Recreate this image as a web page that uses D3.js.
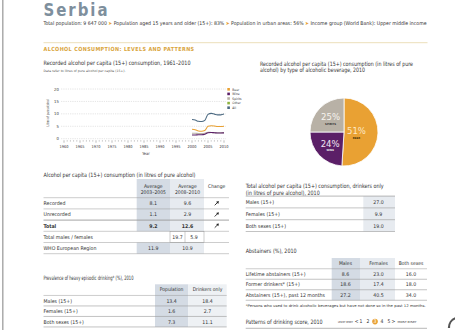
<!DOCTYPE html>
<html><head><meta charset="utf-8">
<script src="https://cdn.jsdelivr.net/npm/d3@7"></script>
<style>
html,body{margin:0;padding:0;background:#fff;}
svg{display:block;}
text{font-family:'Liberation Sans Narrow','DejaVu Sans Condensed','Roboto',sans-serif;}
</style></head><body>
<svg id="c" width="455" height="330"></svg>
<script>
// ---------- data ----------
const years   = [2000,2001,2002,2003,2004,2005,2006,2007,2008,2009,2010];
const beer    = [3.8,3.6,3.1,3.0,3.3,5.0,5.2,5.1,4.9,4.9,5.0];
const wine    = [1.5,1.5,1.6,1.6,1.8,2.4,2.5,2.4,2.3,2.3,2.35];
const spirits = [2.2,2.2,2.1,2.1,2.2,2.6,2.5,2.4,2.4,2.4,2.45];
const allBev  = [7.7,7.5,7.0,6.9,7.4,9.8,10.2,9.9,9.6,9.6,9.9];
const legendLabels = ["Beer","Wine","Spirits","Other","All"];
const yTicks = [0,5,10,15,20];
const xTickLabels = [1960,1965,1970,1975,1980,1985,1990,1995,2000,2005,2010];

const pieLabels = ["Beer","Wine","Spirits"];
const pieValues = [51,24,25];

const consRows  = ["Recorded","Unrecorded","Total","Total males / females","WHO European Region"];
const cons0305  = [8.1,1.1,9.2,null,11.9];
const cons0810  = [9.6,2.9,12.6,null,10.9];
const consMF    = [19.7,5.9];
const consUp    = [true,true,true,false,false];

const drRows = ["Males (15+)","Females (15+)","Both sexes (15+)"];
const drVals = [27.0,9.9,19.0];

const abRows    = ["Lifetime abstainers (15+)","Former drinkers* (15+)","Abstainers (15+), past 12 months"];
const abMales   = [8.6,18.6,27.2];
const abFemales = [23.0,17.4,40.5];
const abBoth    = [16.0,18.0,34.0];

const hedRows = ["Males (15+)","Females (15+)","Both sexes (15+)"];
const hedPop  = [13.4,1.6,7.3];
const hedDrk  = [18.4,2.7,11.1];

const scoreLevels = [1,2,3,4,5];
const scoreValue = 3;

// ---------- styles ----------
const C = {text:"#333", beer:"#e9a133", wine:"#5b1f67", spirits:"#b8b1a6", other:"#8db33f", all:"#4c6a82",
  shadeD:"#d4dbe4", shadeL:"#e7ebf0", rule:"#9a9a9a", gold:"#d9a43a"};
const svg = d3.select("#c");
const fmt = d3.format(".1f");
function txt(x,y,s,o={}){
  const t = svg.append("text").attr("x",x).attr("y",y).text(s)
    .attr("font-size",o.size||5.5).attr("fill",o.fill||C.text);
  if(o.anchor) t.attr("text-anchor",o.anchor);
  if(o.weight) t.attr("font-weight",o.weight);
  if(o.len) t.attr("textLength",o.len).attr("lengthAdjust","spacingAndGlyphs");
  if(o.ls) t.attr("letter-spacing",o.ls);
  return t;
}
function hline(x1,x2,y,o={}){
  svg.append("line").attr("x1",x1).attr("x2",x2).attr("y1",y).attr("y2",y)
    .attr("stroke",o.stroke||C.rule).attr("stroke-width",o.w||0.6);
}

// left page edge
svg.append("line").attr("x1",2.8).attr("x2",2.8).attr("y1",0).attr("y2",330).attr("stroke","#a5a5a5").attr("stroke-width",1.4);

// ---------- header ----------
txt(43.5,15.5,"Serbia",{size:17,fill:"#7e8f9d",weight:"bold",len:66,ls:2});
const sub = svg.append("text").attr("x",43.5).attr("y",24.6).attr("font-size",5.2).attr("fill",C.text)
  .attr("textLength",383).attr("lengthAdjust","spacingAndGlyphs");
const subParts = ["Total population: 9 647 000 ","Population aged 15 years and older (15+): 83% ","Population in urban areas: 56% ","Income group (World Bank): Upper middle income"];
subParts.forEach((p,i)=>{
  if(i>0) sub.append("tspan").attr("fill",C.beer).text("➤ ");
  sub.append("tspan").text(p);
});
hline(43.5,427.5,42.7,{stroke:"#eadcb2",w:0.9});
txt(43.5,51.3,"ALCOHOL CONSUMPTION: LEVELS AND PATTERNS",{size:5.6,fill:C.gold,weight:"bold",len:151,ls:0.4});

// ---------- line chart ----------
txt(43.5,65.3,"Recorded alcohol per capita (15+) consumption, 1961–2010",{size:6,len:147});
txt(43.5,71.8,"Data refer to litres of pure alcohol per capita (15+).",{size:3.2,fill:"#555",len:82});

const x = d3.scaleLinear().domain([1960,2010]).range([64,224]);
const y = d3.scaleLinear().domain([0,20]).range([138.7,89]);
yTicks.forEach(v=>{
  svg.append("line").attr("x1",61).attr("x2",226).attr("y1",y(v)).attr("y2",y(v))
    .attr("stroke","#b5b5b5").attr("stroke-width",0.5).attr("stroke-dasharray","0.7,1.1");
  txt(58.8,y(v)+1.5,v,{size:4.2,anchor:"end"});
});
d3.range(1960,2011).forEach(yr=>{
  const major = yr%5===0;
  svg.append("line").attr("x1",x(yr)).attr("x2",x(yr)).attr("y1",y(0)+1.6).attr("y2",y(0)+(major?4:2.8))
    .attr("stroke","#666").attr("stroke-width",0.45);
});
xTickLabels.forEach(yr=>txt(x(yr),147.8,yr,{size:3.9,anchor:"middle"}));
txt(146,155.3,"Year",{size:4,anchor:"middle"});
txt(0,0,"Litres of pure alcohol",{size:3.6,anchor:"middle",len:27}).attr("transform","translate(48.6,113) rotate(-90)");

const line = d3.line().x((d,i)=>x(years[i])).y(d=>y(d)).curve(d3.curveMonotoneX);
[[spirits,C.spirits],[wine,C.wine],[beer,C.beer],[allBev,C.all]].forEach(([s,c])=>{
  svg.append("path").attr("d",line(s)).attr("fill","none").attr("stroke",c).attr("stroke-width",1.1);
});
const legColors = [C.beer,C.wine,C.spirits,C.other,C.all];
legendLabels.forEach((l,i)=>{
  const yy = 89.3 + i*4.6;
  svg.append("rect").attr("x",227.3).attr("y",yy-1.3).attr("width",2.6).attr("height",2.6).attr("fill",legColors[i]);
  txt(232.3,yy+1.2,l,{size:3.3});
});

// ---------- pie ----------
txt(260,65.8,"Recorded alcohol per capita (15+) consumption (in litres of pure",{size:6,len:153});
txt(260,72.2,"alcohol) by type of alcoholic beverage, 2010",{size:6,len:105});
const pcx=344, pcy=132, pr=34;
const pie = d3.pie().sort(null).value(d=>d)(pieValues);
const arc = d3.arc().innerRadius(0).outerRadius(pr);
const pieCols = [C.beer,C.wine,C.spirits];
const pg = svg.append("g").attr("transform",`translate(${pcx},${pcy})`);
pg.selectAll("path").data(pie).join("path").attr("d",arc).attr("fill",(d,i)=>pieCols[i])
  .attr("stroke","#fff").attr("stroke-width",0.8);
const labelR = [12.5,19,19];
const pctFill = ["#fde8c4","#f1e6f2","#f7f4ee"];
const nameFill = ["#4a3205","#eee","#333"];
pie.forEach((d,i)=>{
  const c = d3.arc().innerRadius(labelR[i]).outerRadius(labelR[i]).centroid(d);
  pg.append("text").attr("x",c[0]).attr("y",c[1]+1.6).attr("text-anchor","middle")
    .attr("font-size",9.5).attr("fill",pctFill[i]).text(pieValues[i]+"%");
  pg.append("text").attr("x",c[0]).attr("y",c[1]+6.2).attr("text-anchor","middle")
    .attr("font-size",2.8).attr("font-weight","bold").attr("fill",nameFill[i]).text(pieLabels[i].toUpperCase());
});

// ---------- table 1: per capita consumption ----------
txt(43.5,177,"Alcohol per capita (15+) consumption (in litres of pure alcohol)",{size:6,len:152});
const t1c1=[136.7,170], t1c2=[170,204];
const t1y = d3.scaleLinear().domain([0,1]).range([203.3,214.5]);
svg.append("rect").attr("x",t1c1[0]).attr("y",179).attr("width",t1c1[1]-t1c1[0]).attr("height",t1y(2.5)-179).attr("fill",C.shadeD);
svg.append("rect").attr("x",t1c2[0]).attr("y",179).attr("width",t1c2[1]-t1c2[0]).attr("height",t1y(2.5)-179).attr("fill",C.shadeL);
svg.append("rect").attr("x",t1c1[0]).attr("y",t1y(3.5)).attr("width",t1c1[1]-t1c1[0]).attr("height",t1y(4.5)-t1y(3.5)).attr("fill",C.shadeD);
svg.append("rect").attr("x",t1c2[0]).attr("y",t1y(3.5)).attr("width",t1c2[1]-t1c2[0]).attr("height",t1y(4.5)-t1y(3.5)).attr("fill",C.shadeL);
txt(153.3,187.8,"Average",{size:5,anchor:"middle"}); txt(153.3,193.6,"2003–2005",{size:5,anchor:"middle"});
txt(187.5,187.8,"Average",{size:5,anchor:"middle"}); txt(187.5,193.6,"2008–2010",{size:5,anchor:"middle"});
txt(216.7,187.8,"Change",{size:5,anchor:"middle"});
hline(43.5,229,t1y(-0.5),{w:0.5});
consRows.forEach((r,i)=>{
  const yy=t1y(i), bold = i===2 ? "bold":null;
  txt(43.5,yy+1.9,r,{size:5.2,weight:bold});
  if(cons0305[i]!=null) txt(153.3,yy+1.9,fmt(cons0305[i]),{size:5.2,anchor:"middle",weight:bold});
  if(cons0810[i]!=null) txt(187.5,yy+1.9,fmt(cons0810[i]),{size:5.2,anchor:"middle",weight:bold});
  if(consUp[i]){
    const ax=216.7, ay=yy;
    svg.append("line").attr("x1",ax-2).attr("y1",ay+2).attr("x2",ax+1.2).attr("y2",ay-1.2).attr("stroke","#222").attr("stroke-width",0.9);
    svg.append("path").attr("d",`M${ax+2.2},${ay-2.2} L${ax-0.6},${ay-1.6} L${ax+1.6},${ay+0.6} Z`).attr("fill","#222");
  }
  hline(43.5,229,t1y(i+0.5),{w:i===1?0.9:0.5});
});
// males/females split cell
const mfY = t1y(3);
svg.append("rect").attr("x",t1c2[0]).attr("y",t1y(2.5)).attr("width",t1c2[1]-t1c2[0]).attr("height",t1y(3.5)-t1y(2.5))
  .attr("fill","none").attr("stroke",C.rule).attr("stroke-width",0.5);
svg.append("line").attr("x1",185).attr("x2",185).attr("y1",t1y(2.5)).attr("y2",t1y(3.5)).attr("stroke",C.rule).attr("stroke-width",0.5);
txt(177.5,mfY+1.9,fmt(consMF[0]),{size:5.2,anchor:"middle"});
txt(194,mfY+1.9,fmt(consMF[1]),{size:5.2,anchor:"middle"});

// ---------- table 2: drinkers only ----------
txt(245.7,188,"Total alcohol per capita (15+) consumption, drinkers only",{size:6,len:138});
txt(245.7,194.6,"(in litres of pure alcohol), 2010",{size:6,len:74});
const t2y = d3.scaleLinear().domain([0,1]).range([202,213.8]);
svg.append("rect").attr("x",363.3).attr("y",t2y(-0.5)).attr("width",31.7).attr("height",t2y(2.5)-t2y(-0.5)).attr("fill",C.shadeL);
hline(245.7,395,t2y(-0.5),{w:0.7});
drRows.forEach((r,i)=>{
  txt(245.7,t2y(i)+1.9,r,{size:5.2});
  txt(378.5,t2y(i)+1.9,fmt(drVals[i]),{size:5.2,anchor:"middle"});
  hline(245.7,395,t2y(i+0.5),{w:0.6});
});

// ---------- table 3: abstainers ----------
txt(245.7,252.6,"Abstainers (%), 2010",{size:6,len:51});
const t3y = d3.scaleLinear().domain([0,1]).range([274,284.5]);
svg.append("rect").attr("x",331.7).attr("y",258).attr("width",28.3).attr("height",t3y(2.5)-258).attr("fill",C.shadeD);
svg.append("rect").attr("x",360).attr("y",258).attr("width",35).attr("height",t3y(2.5)-258).attr("fill",C.shadeL);
const abCols = [345.5,378.5,411];
["Males","Females","Both sexes"].forEach((h,i)=>txt(abCols[i],265.2,h,{size:5,anchor:"middle"}));
hline(245.7,427,t3y(-0.5),{w:0.5});
abRows.forEach((r,i)=>{
  const yy=t3y(i)+1.9;
  txt(245.7,yy,r,{size:5.2});
  txt(abCols[0],yy,fmt(abMales[i]),{size:5.2,anchor:"middle"});
  txt(abCols[1],yy,fmt(abFemales[i]),{size:5.2,anchor:"middle"});
  txt(abCols[2],yy,fmt(abBoth[i]),{size:5.2,anchor:"middle"});
  hline(245.7,427,t3y(i+0.5),{w:0.6});
});
txt(245.7,307.2,"*Persons who used to drink alcoholic beverages but have not done so in the past 12 months.",{size:3.6,len:180});

// patterns of drinking score
txt(245.7,323.5,"Patterns of drinking score, 2010",{size:6,len:77});
txt(338,323,"LEAST RISKY",{size:2.8,len:15});
txt(356.7,323.4,"<",{size:5,anchor:"middle"});
const sx = d3.scaleLinear().domain([1,5]).range([361,389]);
scoreLevels.forEach(v=>{
  if(v===scoreValue){
    svg.append("circle").attr("cx",sx(v)).attr("cy",321.6).attr("r",2.8).attr("fill",C.beer);
    txt(sx(v),323.4,v,{size:5,anchor:"middle",fill:"#fff"});
  } else txt(sx(v),323.4,v,{size:5,anchor:"middle"});
});
txt(393.3,323.4,">",{size:5,anchor:"middle"});
txt(397.5,323,"MOST RISKY",{size:2.8,len:19});
hline(245.7,427,328.3,{w:0.7});
svg.append("path").attr("d","M449,328 A10,10 0 0 1 456,318").attr("fill","none").attr("stroke","#555").attr("stroke-width",2.2);

// ---------- table 4: heavy episodic drinking ----------
txt(43.5,280.3,"Prevalence of heavy episodic drinking* (%), 2010",{size:6,len:90});
const t4y = d3.scaleLinear().domain([0,1]).range([300.7,311.2]);
svg.append("rect").attr("x",155).attr("y",284.3).attr("width",33.3).attr("height",t4y(2.5)-284.3).attr("fill",C.shadeD);
svg.append("rect").attr("x",188.3).attr("y",284.3).attr("width",38.4).attr("height",t4y(2.5)-284.3).attr("fill","#eef1f4");
txt(171.6,291,"Population",{size:5,anchor:"middle"});
txt(207.5,291,"Drinkers only",{size:5,anchor:"middle"});
hline(43.5,226.7,t4y(-0.5),{w:0.5});
hedRows.forEach((r,i)=>{
  const yy=t4y(i)+1.9;
  txt(43.5,yy,r,{size:5.2});
  txt(171.6,yy,fmt(hedPop[i]),{size:5.2,anchor:"middle"});
  txt(207.5,yy,fmt(hedDrk[i]),{size:5.2,anchor:"middle"});
  hline(43.5,226.7,t4y(i+0.5),{w:0.6});
});
</script>
</body></html>
